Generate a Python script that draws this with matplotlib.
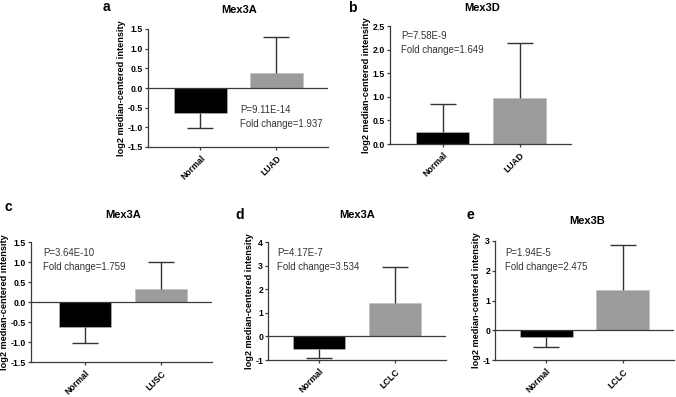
import matplotlib
matplotlib.use("Agg")
import matplotlib.pyplot as plt
import numpy as np

plt.rcParams['font.family'] = ['Liberation Sans', 'DejaVu Sans']

# ---- data ----
panel_letters = ['a', 'b', 'c', 'd', 'e']
titles = ['Mex3A', 'Mex3D', 'Mex3A', 'Mex3A', 'Mex3B']
categories = [['Normal', 'LUAD'], ['Normal', 'LUAD'], ['Normal', 'LUSC'],
              ['Normal', 'LCLC'], ['Normal', 'LCLC']]
means_a = [-0.64, 0.39]
sd_a = [0.37, 0.90]
means_b = [0.26, 0.97]
sd_b = [0.59, 1.18]
means_c = [-0.62, 0.32]
sd_c = [0.41, 0.67]
means_d = [-0.53, 1.40]
sd_d = [0.40, 1.55]
means_e = [-0.24, 1.35]
sd_e = [0.31, 1.52]
p_values = ['P=9.11E-14', 'P=7.58E-9', 'P=3.64E-10', 'P=4.17E-7', 'P=1.94E-5']
fold_changes = ['Fold change=1.937', 'Fold change=1.649', 'Fold change=1.759',
                'Fold change=3.534', 'Fold change=2.475']
yticks_list = [[-1.5, -1.0, -0.5, 0.0, 0.5, 1.0, 1.5],
               [0.0, 0.5, 1.0, 1.5, 2.0, 2.5],
               [-1.5, -1.0, -0.5, 0.0, 0.5, 1.0, 1.5],
               [-1, 0, 1, 2, 3, 4],
               [-1, 0, 1, 2, 3]]
ytick_fmt = ['%.1f', '%.1f', '%.1f', '%d', '%d']
means = [means_a, means_b, means_c, means_d, means_e]
sds = [sd_a, sd_b, sd_c, sd_d, sd_e]

# ---- layout (pixels) ----
W, H = 676, 397
axes_px = [(148, 328, 29, 147), (390, 571, 26, 144), (31, 212, 242, 362),
           (268, 446, 242, 360), (495, 674, 241, 360)]
xlims = [(-0.69, 1.68), (-0.69, 1.67), (-0.71, 1.67), (-0.675, 1.68), (-0.67, 1.67)]
letter_px = [(106, 7), (352, 8), (8, 207), (240, 215), (470, 215)]
title_px = [(239, 10), (482, 8), (123, 215), (357, 215), (587, 221)]
annot_px = [(240, 110), (401, 36), (43, 253), (277, 253), (505, 253)]
line_gap = 14

bar_colors = ['#000000', '#9b9b9b']
spine_col = '#3a3a3a'
err_col = '#333333'

fig = plt.figure(figsize=(W / 100, H / 100), dpi=100)

for i in range(5):
    x0, x1, yt, yb = axes_px[i]
    ax = fig.add_axes([x0 / W, 1 - yb / H, (x1 - x0) / W, (yb - yt) / H])
    m = np.array(means[i])
    s = np.array(sds[i])
    pos = np.arange(len(m))
    ax.bar(pos, m, width=0.69, color=bar_colors, edgecolor='#bdbdbd',
           linewidth=0.4, zorder=2)
    lower = np.where(m < 0, s, 0)
    upper = np.where(m >= 0, s, 0)
    ax.errorbar(pos, m, yerr=[lower, upper], fmt='none', ecolor=err_col,
                elinewidth=1.0, capsize=0, zorder=3)
    ends = np.where(m < 0, m - s, m + s)
    ax.plot(pos, ends, linestyle='none', marker='_', markersize=19,
            markeredgewidth=1.0, color=err_col, zorder=3, clip_on=False)
    yt_vals = yticks_list[i]
    ax.set_ylim(yt_vals[0], yt_vals[-1])
    ax.set_xlim(*xlims[i])
    ax.set_yticks(yt_vals)
    ax.set_yticklabels([ytick_fmt[i] % v for v in yt_vals],
                       fontsize=6.3, fontweight='bold')
    ax.set_xticks(pos)
    ax.set_xticklabels(categories[i], rotation=45, ha='right', va='top',
                       rotation_mode='anchor', fontsize=6.3, fontweight='bold')
    ax.tick_params(axis='both', length=2.5, width=0.9, color=spine_col, pad=1.0)
    ax.tick_params(axis='x', pad=2.5)
    for sp in ['top', 'right']:
        ax.spines[sp].set_visible(False)
    for sp in ['left', 'bottom']:
        ax.spines[sp].set_color(spine_col)
        ax.spines[sp].set_linewidth(0.9)
    if yt_vals[0] < 0:
        ax.axhline(0, color=spine_col, linewidth=0.9, zorder=4)
    ax.set_ylabel('log2 median-centered intensity', fontsize=6.6,
                  fontweight='bold', labelpad=1.0)

    lx, ly = letter_px[i]
    fig.text(lx / W, 1 - ly / H, panel_letters[i], fontsize=10,
             fontweight='bold', ha='center', va='center')
    tx, ty = title_px[i]
    fig.text(tx / W, 1 - ty / H, titles[i], fontsize=8, fontweight='bold',
             ha='center', va='center')
    axp, ayp = annot_px[i]
    fig.text(axp / W, 1 - ayp / H, p_values[i], fontsize=6.9, color='#333333',
             ha='left', va='center')
    fig.text(axp / W, 1 - (ayp + line_gap) / H, fold_changes[i], fontsize=6.9,
             color='#333333', ha='left', va='center')

fig.savefig('out.png', dpi=100)
